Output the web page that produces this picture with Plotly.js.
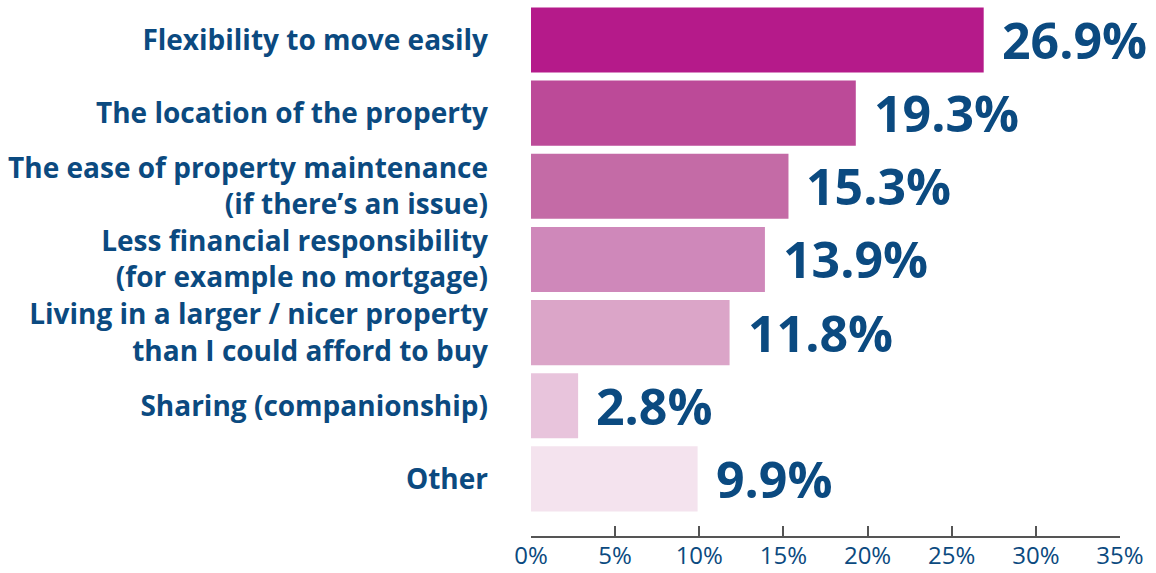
<!DOCTYPE html>
<html>
<head>
<meta charset="utf-8">
<script src="https://cdn.plot.ly/plotly-3.0.1.min.js"></script>
<style>html,body{margin:0;padding:0;background:#fff;}#chart{width:1156px;height:573px;}</style>
</head>
<body>
<div id="chart"></div>
<script>
const categories = [
  "Flexibility to move easily",
  "The location of the property",
  "The ease of property maintenance<br>(if there’s an issue)",
  "Less financial responsibility<br>(for example no mortgage)",
  "Living in a larger / nicer property<br>than I could afford to buy",
  "Sharing (companionship)",
  "Other"
];
const values = [26.9, 19.3, 15.3, 13.9, 11.8, 2.8, 9.9];
const barColors = ["#B51A8A", "#BC4A98", "#C46BA6", "#CF88BA", "#DBA5C8", "#E8C4DC", "#F4E3EE"];
const tickVals = [0, 5, 10, 15, 20, 25, 30, 35];
const tickText = ["0%", "5%", "10%", "15%", "20%", "25%", "30%", "35%"];

const navy = "#0B4A80";
const fontFam = "'Open Sans', 'Noto Sans', sans-serif";

const trace = {
  type: "bar",
  orientation: "h",
  x: values,
  y: categories,
  marker: { color: barColors, line: { width: 0 } },
  width: 0.89,
  hoverinfo: "skip"
};

const annotations = values.map((v, i) => ({
  x: v, y: categories[i], xref: "x", yref: "y",
  text: v.toFixed(1) + "%",
  showarrow: false, xanchor: "left", yanchor: "middle",
  xshift: 16, yshift: 0,
  font: { family: fontFam, size: 50, color: navy, weight: 700 }
}));

const layout = {
  width: 1156, height: 573,
  margin: { l: 531, r: 36, t: 3, b: 37 },
  paper_bgcolor: "#fff", plot_bgcolor: "#fff",
  showlegend: false,
  xaxis: {
    range: [0, 35], tickvals: tickVals, ticktext: tickText,
    showgrid: false, zeroline: false,
    showline: true, linecolor: "#555", linewidth: 2,
    ticks: "inside", ticklen: 10, tickwidth: 2, tickcolor: "#555",
    tickfont: { family: fontFam, size: 24, color: navy },
    ticklabelstandoff: -3,
    fixedrange: true
  },
  yaxis: {
    type: "category",
    range: [6.78, -0.505],
    showgrid: false, zeroline: false, showline: false,
    ticks: "",
    tickfont: { family: fontFam, size: 28, color: navy, weight: 700 },
    ticklabelstandoff: 42,
    fixedrange: true
  },
  annotations: annotations
};

Plotly.newPlot("chart", [trace], layout, { displayModeBar: false, staticPlot: true });
</script>
</body>
</html>
